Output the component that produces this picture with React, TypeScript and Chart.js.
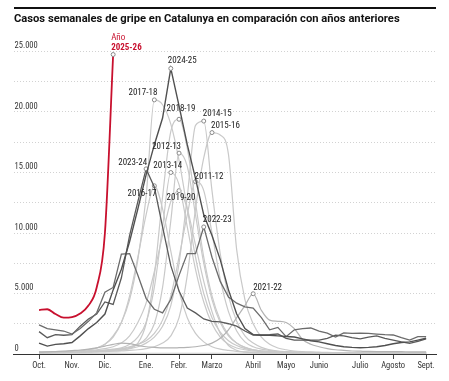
import React, { useEffect, useRef } from 'react';
import { Chart, registerables } from 'chart.js';

Chart.register(...registerables);

const TITLE = 'Casos semanales de gripe en Catalunya en comparación con años anteriores';

// Week positions (week 40 → week 35 of the following year)
const weekNumbers = [40, 41, 42, 43, 44, 45, 46, 47, 48, 49, 50, 51, 52, 1, 2, 3, 4, 5, 6, 7, 8, 9, 10, 11, 12, 13, 14, 15, 16, 17, 18, 19, 20, 21, 22, 23, 24, 25, 26, 27, 28, 29, 30, 31, 32, 33, 34, 35];
const monthTickIdx = [0, 4, 8, 13, 17, 21, 26, 30, 34, 39, 43, 47];
const monthLabels = ['Oct.', 'Nov.', 'Dic.', 'Ene.', 'Febr.', 'Marzo', 'Abril', 'Mayo', 'Junio', 'Julio', 'Agosto', 'Sept.'];

const s2011_12 = [150, 150, 160, 170, 190, 210, 240, 270, 310, 370, 450, 600, 800, 1100, 1700, 2800, 4800, 8000, 11500, 14250, 13500, 10000, 6200, 3500, 1900, 1000, 600, 400, 300, 220, 180, 150, 130, 120, 110, 100, 100, 90, 90, 80, 80, 80, 80, 80, 80, 80, 80, 80];
const s2012_13 = [120, 120, 130, 140, 150, 170, 190, 220, 260, 320, 400, 550, 800, 1300, 2500, 5500, 11000, 16600, 15500, 11500, 7500, 4500, 2600, 1500, 900, 550, 350, 250, 200, 170, 150, 130, 120, 110, 100, 100, 90, 90, 80, 80, 80, 80, 70, 70, 70, 70, 70, 70];
const s2013_14 = [130, 140, 150, 160, 170, 190, 220, 260, 320, 400, 500, 800, 1400, 2600, 5500, 10500, 15000, 14000, 10500, 7000, 4300, 2500, 1400, 800, 500, 350, 250, 200, 170, 150, 130, 120, 110, 100, 100, 90, 90, 80, 80, 80, 80, 70, 70, 70, 70, 70, 70, 70];
const s2014_15 = [150, 150, 160, 170, 180, 200, 220, 250, 280, 320, 350, 450, 600, 900, 1400, 2300, 4000, 7500, 13000, 18900, 19250, 13500, 8300, 4800, 2700, 1500, 900, 550, 350, 250, 200, 170, 150, 130, 120, 110, 100, 100, 90, 90, 80, 80, 80, 80, 80, 80, 80, 80];
const s2015_16 = [100, 100, 110, 120, 130, 140, 160, 180, 200, 230, 250, 300, 350, 450, 600, 900, 1500, 3000, 6500, 12000, 16200, 18300, 18100, 16500, 8600, 4500, 2500, 1400, 800, 500, 350, 250, 200, 170, 150, 130, 120, 110, 100, 100, 90, 90, 80, 80, 80, 80, 80, 80];
const s2016_17 = [150, 160, 180, 200, 230, 270, 350, 500, 800, 1400, 2600, 4800, 8000, 11500, 13900, 12000, 8500, 5200, 3000, 1700, 1000, 600, 400, 300, 220, 180, 150, 130, 120, 110, 100, 100, 90, 90, 80, 80, 80, 80, 70, 70, 70, 70, 70, 70, 70, 70, 70, 70];
const s2017_18 = [150, 170, 190, 200, 230, 280, 350, 500, 800, 1500, 2600, 4500, 7800, 13000, 21000, 20600, 19000, 16000, 12000, 8000, 5000, 3000, 1800, 1100, 700, 450, 320, 250, 200, 170, 150, 130, 120, 110, 100, 100, 90, 90, 80, 80, 80, 80, 80, 80, 80, 80, 80, 80];
const s2018_19 = [100, 110, 120, 130, 140, 150, 170, 190, 220, 260, 300, 450, 900, 2500, 6500, 13000, 18400, 19400, 17000, 12500, 8000, 4800, 2800, 1600, 900, 550, 350, 250, 200, 170, 150, 130, 120, 110, 100, 100, 90, 90, 80, 80, 80, 80, 80, 80, 80, 80, 80, 80];
const s2019_20 = [150, 160, 170, 190, 210, 240, 280, 350, 450, 600, 900, 1500, 2600, 4200, 6800, 9800, 12600, 13500, 12000, 9000, 6000, 3500, 1700, 700, 300, 150, 100, 80, 70, 60, 60, 50, 50, 50, 50, 50, 50, 50, 50, 50, 50, 50, 50, 50, 50, 50, 50, 50];
const s2020_21 = [80, 80, 80, 80, 80, 70, 70, 70, 70, 70, 60, 60, 60, 60, 60, 60, 60, 60, 60, 60, 60, 60, 60, 60, 60, 60, 60, 60, 60, 60, 60, 60, 60, 60, 60, 60, 60, 60, 60, 60, 70, 70, 70, 80, 80, 90, 100, 110];
const s2021_22 = [150, 170, 200, 230, 280, 330, 400, 500, 650, 800, 900, 850, 700, 600, 550, 500, 500, 520, 550, 600, 700, 900, 1300, 2000, 3000, 4000, 4980, 3600, 2800, 2700, 2600, 2100, 1200, 800, 600, 450, 350, 300, 250, 230, 210, 200, 200, 190, 190, 180, 180, 180];
const s2022_23 = [2400, 2100, 2000, 1900, 1650, 2100, 2700, 3400, 5100, 5500, 8250, 8300, 6500, 4600, 3700, 3400, 4500, 6500, 8300, 8300, 10500, 8000, 6000, 4700, 4200, 3900, 3800, 3000, 2000, 2200, 1430, 2000, 2100, 2150, 1900, 1730, 1400, 1750, 1700, 1730, 1700, 1650, 1600, 1570, 1350, 1150, 1430, 1430];
const s2023_24 = [1850, 1350, 1600, 1550, 1600, 2300, 2900, 3300, 4300, 4100, 6300, 9800, 12600, 15300, 13800, 10500, 7300, 5200, 3800, 3400, 2900, 2700, 2650, 2500, 2300, 1900, 1570, 1570, 1600, 1650, 1300, 1150, 1150, 1150, 1150, 1300, 1550, 1500, 1350, 1250, 1400, 1500, 1300, 1150, 1000, 880, 1050, 1240];
const s2024_25 = [900, 650, 800, 850, 950, 1500, 2100, 2600, 3300, 5300, 7000, 9300, 12000, 14800, 17300, 19500, 23600, 20500, 17300, 14500, 11500, 9800, 7800, 5300, 3300, 2100, 1600, 1550, 1550, 1500, 1450, 1400, 1250, 1100, 1000, 850, 700, 600, 550, 520, 550, 600, 700, 850, 950, 1000, 1150, 1300];
const s2025_26 = [3630, 3700, 3300, 3000, 3050, 3350, 4000, 5500, 10000, 24750];

const seriesList = [
  { name: '2011-12', data: s2011_12 },
  { name: '2012-13', data: s2012_13 },
  { name: '2013-14', data: s2013_14 },
  { name: '2014-15', data: s2014_15 },
  { name: '2015-16', data: s2015_16 },
  { name: '2016-17', data: s2016_17 },
  { name: '2017-18', data: s2017_18 },
  { name: '2018-19', data: s2018_19 },
  { name: '2019-20', data: s2019_20 },
  { name: '2020-21', data: s2020_21 },
  { name: '2021-22', data: s2021_22 },
  { name: '2022-23', data: s2022_23 },
  { name: '2023-24', data: s2023_24 },
  { name: '2024-25', data: s2024_25 },
  { name: '2025-26', data: s2025_26 },
];

const RED = '#c8102e';
const LIGHT = '#c9c9c9';

const lineStyle: Record<string, { color: string; width: number; order: number; straight?: boolean }> = {
  '2021-22': { color: '#b3b3b3', width: 1.2, order: 3 },
  '2022-23': { color: '#6b6b6b', width: 1.3, order: 2, straight: true },
  '2023-24': { color: '#5a5a5a', width: 1.3, order: 2, straight: true },
  '2024-25': { color: '#505050', width: 1.4, order: 1, straight: true },
  '2025-26': { color: RED, width: 1.8, order: 0 },
};

// Label placement relative to each season's peak marker
const labelPlacement: Record<string, { align: CanvasTextAlign; dx: number; dy: number }> = {
  '2024-25': { align: 'left', dx: -3, dy: -8 },
  '2017-18': { align: 'right', dx: 3, dy: -7 },
  '2018-19': { align: 'center', dx: 2, dy: -11 },
  '2014-15': { align: 'left', dx: -1, dy: -7 },
  '2015-16': { align: 'left', dx: -1, dy: -7 },
  '2012-13': { align: 'right', dx: 2, dy: -6 },
  '2023-24': { align: 'right', dx: 1, dy: -6 },
  '2013-14': { align: 'center', dx: -3, dy: -7 },
  '2016-17': { align: 'right', dx: 2, dy: 8 },
  '2019-20': { align: 'center', dx: 2, dy: 7 },
  '2011-12': { align: 'left', dx: -1, dy: -5 },
  '2022-23': { align: 'left', dx: -1, dy: -7 },
  '2021-22': { align: 'left', dx: 0, dy: -6 },
};

const LABEL_FONT = "'Liberation Sans Narrow', 'Roboto Condensed', 'Liberation Sans', sans-serif";

const peakIndexOf = (arr: number[]) => arr.indexOf(Math.max(...arr));

const peakLabelPlugin = {
  id: 'peakLabels',
  afterDatasetsDraw(chart: any) {
    const ctx = chart.ctx as CanvasRenderingContext2D;
    ctx.save();
    ctx.textBaseline = 'middle';
    chart.data.datasets.forEach((ds: any, di: number) => {
      const name = ds.label as string;
      const series = seriesList.find((s) => s.name === name);
      if (!series) return;
      const el = chart.getDatasetMeta(di).data[peakIndexOf(series.data)];
      if (!el) return;
      const mx = el.x;
      const my = el.y;
      if (name === '2025-26') {
        ctx.fillStyle = RED;
        ctx.textAlign = 'left';
        ctx.font = `9px ${LABEL_FONT}`;
        ctx.fillText('Año', mx - 2, my - 17);
        ctx.font = `bold 9px ${LABEL_FONT}`;
        ctx.fillText(name, mx - 2, my - 7);
        return;
      }
      const p = labelPlacement[name];
      if (!p) return;
      ctx.fillStyle = '#222';
      ctx.font = `9px ${LABEL_FONT}`;
      ctx.textAlign = p.align;
      ctx.fillText(name, mx + p.dx, my + p.dy);
    });
    ctx.restore();
  },
};

export default function App() {
  const canvasRef = useRef<HTMLCanvasElement | null>(null);

  useEffect(() => {
    if (!canvasRef.current) return;
    const datasets = seriesList.map((s) => {
      const st = lineStyle[s.name] || { color: LIGHT, width: 1.2, order: 4 };
      const peak = peakIndexOf(s.data);
      const labelled = s.name === '2025-26' || !!labelPlacement[s.name];
      return {
        label: s.name,
        data: s.data.map((v, i) => ({ x: i, y: v })),
        borderColor: st.color,
        borderWidth: st.width,
        order: st.order,
        fill: false,
        tension: st.straight ? 0 : 0.4,
        cubicInterpolationMode: st.straight ? 'default' : 'monotone',
        pointRadius: (c: any) => (labelled && c.dataIndex === peak ? 2 : 0),
        pointBorderColor: '#8a8a8a',
        pointBackgroundColor: '#ffffff',
        pointBorderWidth: 1,
      };
    });

    const chart = new Chart(canvasRef.current, {
      type: 'line',
      data: { datasets } as any,
      options: {
        animation: false,
        responsive: false,
        maintainAspectRatio: false,
        events: [],
        layout: { padding: { left: 13.5, right: 13, top: 51.5, bottom: 0 } },
        plugins: { legend: { display: false }, tooltip: { enabled: false }, title: { display: false } },
        scales: {
          x: {
            type: 'linear',
            min: -3.1,
            max: 48.2,
            afterFit: (scale: any) => {
              scale.height = 27;
            },
            afterBuildTicks: (scale: any) => {
              scale.ticks = monthTickIdx.map((v) => ({ value: v }));
            },
            ticks: {
              autoSkip: false,
              maxRotation: 0,
              padding: 2,
              color: '#333',
              font: { family: LABEL_FONT, size: 8.5 },
              callback: (_v: any, i: number) => monthLabels[i],
            },
            grid: { display: true, drawOnChartArea: false, drawTicks: true, tickLength: 5, color: '#444' },
            border: { display: true, color: '#333', width: 1 },
          },
          y: {
            type: 'linear',
            min: 0,
            max: 25000,
            afterFit: (scale: any) => {
              scale.width = 0;
            },
            ticks: {
              stepSize: 2500,
              mirror: true,
              padding: 1,
              labelOffset: -5.5,
              color: '#333',
              font: { family: LABEL_FONT, size: 8.5 },
              callback: (v: any) => (Number(v) % 5000 === 0 ? (Number(v) === 0 ? '0' : `${Number(v) / 1000}.000`) : ''),
            },
            grid: { color: '#d2d2d2', drawTicks: false, lineWidth: 1 },
            border: { display: false, dash: [1, 2] },
          },
        },
      } as any,
      plugins: [peakLabelPlugin],
    });
    return () => chart.destroy();
  }, []);

  return (
    <div style={{ position: 'absolute', left: 0, top: 0, width: 449, height: 381, background: '#fff' }}>
      <div style={{ position: 'absolute', left: 14, top: 7, width: 422, height: 2, background: '#111' }} />
      <div
        style={{
          position: 'absolute',
          left: 14,
          top: 12,
          fontFamily: "Roboto, 'Liberation Sans', sans-serif",
          fontWeight: 700,
          fontSize: 11.2,
          lineHeight: '14px',
          color: '#111',
          whiteSpace: 'nowrap',
        }}
      >
        {TITLE}
      </div>
      <canvas ref={canvasRef} width={449} height={381} style={{ display: 'block', width: 449, height: 381 }} />
    </div>
  );
}
